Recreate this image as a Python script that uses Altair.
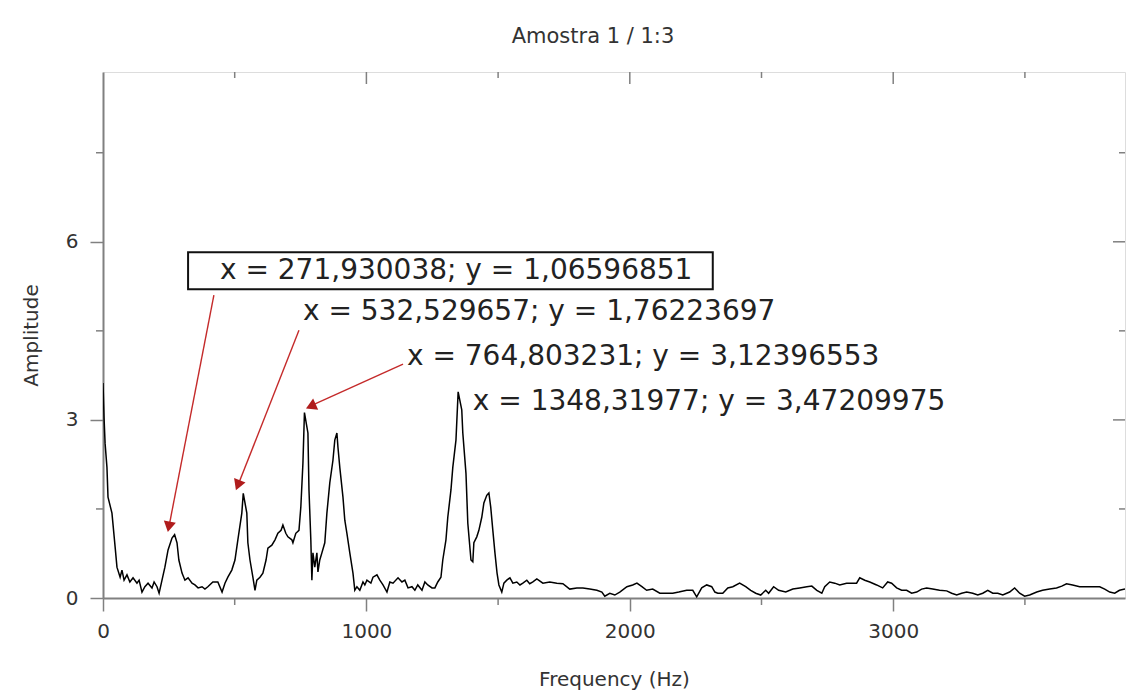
import altair as alt
import pandas as pd

# ---- spectrum ----
freq = [
    0, 4, 8, 15, 19, 34, 46, 53, 65, 72,
    80, 91, 102, 114, 129, 137, 148, 159, 171, 186,
    194, 205, 213, 224, 235, 247, 262, 271.9, 281, 288,
    300, 311, 323, 338, 349, 361, 376, 387, 398, 417,
    436, 452, 463, 474, 489, 501, 512, 527, 532.5, 546,
    550, 558, 569, 577, 584, 596, 607, 619, 626, 641,
    653, 664, 676, 683, 694, 702, 717, 721, 732, 744,
    751, 759, 764.8, 778, 782, 789, 793, 797, 804, 812,
    816, 823, 831, 842, 850, 861, 873, 880, 888, 892,
    899, 911, 918, 926, 937, 949, 956, 964, 975, 987,
    994, 1002, 1017, 1025, 1040, 1051, 1063, 1078, 1089, 1101,
    1120, 1135, 1146, 1158, 1173, 1184, 1195, 1211, 1222, 1233,
    1249, 1260, 1271, 1283, 1290, 1302, 1309, 1321, 1328, 1340,
    1348.3, 1362, 1366, 1378, 1385, 1397, 1404, 1408, 1419, 1427,
    1438, 1446, 1457, 1465, 1472, 1480, 1488, 1496, 1503, 1514,
    1522, 1533, 1545, 1556, 1571, 1583, 1594, 1609, 1620, 1632,
    1647, 1670, 1696, 1723, 1746, 1772, 1799, 1822, 1848, 1875,
    1894, 1905, 1924, 1943, 1962, 1989, 2011, 2027, 2046, 2064,
    2087, 2114, 2140, 2163, 2186, 2216, 2239, 2254, 2273, 2292,
    2311, 2323, 2334, 2353, 2372, 2391, 2417, 2440, 2459, 2478,
    2497, 2516, 2527, 2546, 2565, 2592, 2619, 2645, 2672, 2691,
    2710, 2729, 2740, 2759, 2778, 2797, 2823, 2842, 2861, 2873,
    2892, 2911, 2937, 2960, 2979, 2994, 3013, 3032, 3051, 3070,
    3089, 3108, 3127, 3150, 3176, 3203, 3222, 3241, 3260, 3279,
    3302, 3321, 3340, 3359, 3378, 3397, 3416, 3442, 3461, 3480,
    3499, 3518, 3545, 3567, 3594, 3620, 3640, 3658, 3681, 3708,
    3734, 3757, 3784, 3803, 3822, 3841, 3859, 3880,
]
amp = [
    3.62, 3.03, 2.60, 2.20, 1.70, 1.43, 0.86, 0.52, 0.35, 0.47,
    0.30, 0.39, 0.27, 0.34, 0.25, 0.30, 0.10, 0.19, 0.25, 0.17,
    0.27, 0.19, 0.08, 0.30, 0.52, 0.81, 1.01, 1.066, 0.93, 0.64,
    0.42, 0.30, 0.34, 0.25, 0.22, 0.17, 0.19, 0.15, 0.19, 0.27,
    0.27, 0.10, 0.25, 0.35, 0.47, 0.64, 0.98, 1.43, 1.762, 1.43,
    0.93, 0.64, 0.35, 0.13, 0.30, 0.35, 0.42, 0.64, 0.84, 0.89,
    0.98, 1.09, 1.14, 1.23, 1.09, 1.03, 0.98, 0.93, 1.09, 1.14,
    1.53, 2.27, 3.124, 2.78, 1.82, 0.98, 0.30, 0.76, 0.52, 0.76,
    0.44, 0.64, 0.76, 0.93, 1.43, 1.94, 2.32, 2.66, 2.78, 2.54,
    2.20, 1.70, 1.31, 1.09, 0.76, 0.42, 0.13, 0.19, 0.13, 0.27,
    0.22, 0.30, 0.25, 0.35, 0.39, 0.30, 0.22, 0.10, 0.27, 0.25,
    0.34, 0.27, 0.30, 0.17, 0.19, 0.13, 0.22, 0.13, 0.27, 0.22,
    0.17, 0.17, 0.27, 0.35, 0.64, 0.98, 1.36, 1.82, 2.20, 2.66,
    3.472, 3.17, 2.78, 2.10, 1.26, 0.64, 0.61, 0.93, 1.03, 1.14,
    1.36, 1.60, 1.73, 1.77, 1.53, 1.14, 0.76, 0.42, 0.22, 0.10,
    0.25, 0.30, 0.34, 0.25, 0.27, 0.22, 0.25, 0.30, 0.24, 0.27,
    0.32, 0.25, 0.27, 0.25, 0.24, 0.15, 0.17, 0.17, 0.15, 0.13,
    0.10, 0.03, 0.08, 0.05, 0.10, 0.19, 0.22, 0.25, 0.19, 0.13,
    0.15, 0.08, 0.08, 0.08, 0.10, 0.13, 0.13, 0.02, 0.17, 0.22,
    0.19, 0.10, 0.08, 0.08, 0.17, 0.19, 0.25, 0.19, 0.13, 0.08,
    0.05, 0.13, 0.08, 0.19, 0.13, 0.10, 0.15, 0.17, 0.19, 0.20,
    0.13, 0.08, 0.19, 0.27, 0.25, 0.22, 0.25, 0.25, 0.25, 0.34,
    0.30, 0.27, 0.22, 0.17, 0.27, 0.25, 0.17, 0.13, 0.13, 0.08,
    0.10, 0.15, 0.17, 0.15, 0.13, 0.12, 0.08, 0.05, 0.08, 0.10,
    0.08, 0.05, 0.08, 0.13, 0.08, 0.08, 0.05, 0.10, 0.17, 0.08,
    0.03, 0.05, 0.10, 0.13, 0.15, 0.17, 0.20, 0.24, 0.22, 0.19,
    0.19, 0.19, 0.19, 0.15, 0.10, 0.08, 0.13, 0.15,
]
assert len(freq) == len(amp)

# ---- axis ticks ----
x_major = [0, 1000, 2000, 3000]
x_minor = [500, 1500, 2500, 3500]
y_major = [0, 3, 6]
y_minor = [1.5, 4.5, 7.5]

# ---- annotations ----
ann_text = [
    "x = 271,930038; y = 1,06596851",
    "x = 532,529657; y = 1,76223697",
    "x = 764,803231; y = 3,12396553",
    "x = 1348,31977; y = 3,47209975",
]
ann_f = [444, 759, 1154, 1404]
ann_a = [5.505, 4.815, 4.057, 3.30]

box_f, box_f2 = [323], [2315]
box_a, box_a2 = [5.825], [5.202]

arrow_f = [421, 744, 1139]
arrow_a = [5.10, 4.51, 3.94]
arrow_f2 = [249, 509, 780]
arrow_a2 = [1.17, 1.86, 3.22]
head_f = [250, 512, 789]
head_a = [1.20, 1.90, 3.23]
head_angle = [191, 201.5, 245.6]

W, H = 1022, 526
GRAY = "#808080"
TXT = "#333333"
RED = "#c42a2a"
FONT = "DejaVu Sans"

xs = alt.Scale(domain=[0, 3880], nice=False, zero=False)
ys = alt.Scale(domain=[0, 8.86], nice=False, zero=False)

spec = pd.DataFrame({"f": freq, "a": amp})

line = alt.Chart(spec).mark_line(color="black", strokeWidth=1.5, clip=True).encode(
    x=alt.X("f:Q", scale=xs, axis=alt.Axis(
        values=x_major, format="d", tickSize=13, tickColor=GRAY, tickWidth=1.5,
        domainColor=GRAY, domainWidth=2, grid=False, labelFlush=False,
        labelFont=FONT, labelFontSize=20, labelColor=TXT, labelPadding=10,
        title="Frequency (Hz)", titleFont=FONT, titleFontSize=20,
        titleFontWeight="normal", titleColor=TXT, titlePadding=28)),
    y=alt.Y("a:Q", scale=ys, axis=alt.Axis(
        values=y_major, format="d", tickSize=13, tickColor=GRAY, tickWidth=1.5,
        domainColor=GRAY, domainWidth=2, grid=False, labelFlush=False,
        labelFont=FONT, labelFontSize=20, labelColor=TXT, labelPadding=12,
        title="Amplitude", titleFont=FONT, titleFontSize=20,
        titleFontWeight="normal", titleColor=TXT, titlePadding=24)),
)

xmin_df = pd.DataFrame({"v": x_minor})
xmaj_df = pd.DataFrame({"v": x_major[1:]})
ymin_df = pd.DataFrame({"v": y_minor})
ymaj_df = pd.DataFrame({"v": y_major[1:]})

tick_style = dict(color=GRAY, strokeWidth=1.5)
bottom_minor = alt.Chart(xmin_df).mark_rule(**tick_style).encode(
    x=alt.X("v:Q", scale=xs), y=alt.value(H), y2=alt.value(H + 7))
top_major = alt.Chart(xmaj_df).mark_rule(**tick_style).encode(
    x=alt.X("v:Q", scale=xs), y=alt.value(0), y2=alt.value(12))
top_minor = alt.Chart(xmin_df).mark_rule(**tick_style).encode(
    x=alt.X("v:Q", scale=xs), y=alt.value(0), y2=alt.value(6))
left_minor = alt.Chart(ymin_df).mark_rule(**tick_style).encode(
    y=alt.Y("v:Q", scale=ys), x=alt.value(-7), x2=alt.value(0))
right_major = alt.Chart(ymaj_df).mark_rule(**tick_style).encode(
    y=alt.Y("v:Q", scale=ys), x=alt.value(W - 12), x2=alt.value(W))
right_minor = alt.Chart(ymin_df).mark_rule(**tick_style).encode(
    y=alt.Y("v:Q", scale=ys), x=alt.value(W - 6), x2=alt.value(W))

ann_df = pd.DataFrame({"t": ann_text, "f": ann_f, "a": ann_a})
texts = alt.Chart(ann_df).mark_text(
    align="left", baseline="middle", font=FONT, fontSize=28, color="#222222"
).encode(x=alt.X("f:Q", scale=xs), y=alt.Y("a:Q", scale=ys), text="t:N")

box_df = pd.DataFrame({"f": box_f, "f2": box_f2, "a": box_a, "a2": box_a2})
box = alt.Chart(box_df).mark_rect(fillOpacity=0, stroke="#111111", strokeWidth=2).encode(
    x=alt.X("f:Q", scale=xs), x2="f2:Q", y=alt.Y("a:Q", scale=ys), y2="a2:Q")

arr_df = pd.DataFrame({"f": arrow_f, "a": arrow_a, "f2": arrow_f2, "a2": arrow_a2})
arrows = alt.Chart(arr_df).mark_rule(color=RED, strokeWidth=1.4).encode(
    x=alt.X("f:Q", scale=xs), x2="f2:Q", y=alt.Y("a:Q", scale=ys), y2="a2:Q")

head_df = pd.DataFrame({"f": head_f, "a": head_a, "ang": head_angle})
heads = alt.Chart(head_df).mark_point(
    shape="triangle-up", filled=True, size=150, color="#b01c1c", opacity=1
).encode(x=alt.X("f:Q", scale=xs), y=alt.Y("a:Q", scale=ys),
         angle=alt.Angle("ang:Q", scale=None))

chart = alt.layer(
    line, bottom_minor, top_major, top_minor, left_minor, right_major, right_minor,
    box, texts, arrows, heads
).properties(
    width=W, height=H,
    autosize=alt.AutoSizeParams(type="none"),
    padding={"left": 103, "top": 72, "right": 3, "bottom": 99},
    title=alt.TitleParams(
        text="Amostra 1 / 1:3", font=FONT, fontSize=21, fontWeight="normal",
        color=TXT, offset=24, dx=-21, anchor="middle", frame="group"),
).configure_view(stroke=GRAY, strokeWidth=2).configure(background="white")

chart.save("out.html", embed_options={"renderer": "svg", "actions": False})
